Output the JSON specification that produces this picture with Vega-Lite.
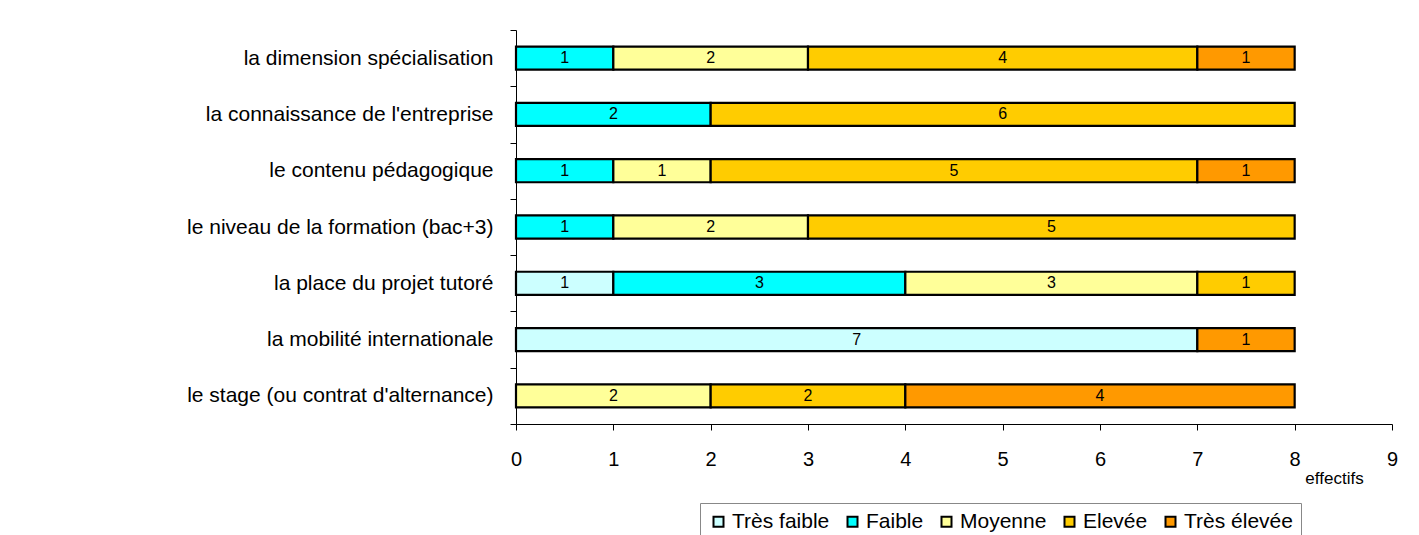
{
  "$schema": "https://vega.github.io/schema/vega-lite/v6.json",
  "width": 876,
  "height": 394,
  "autosize": {"type": "none"},
  "padding": {"left": 516, "top": 30, "right": 27, "bottom": 111},
  "background": "white",
  "config": {
    "font": "Liberation Sans",
    "view": {"stroke": null},
    "axis": {"labelFont": "Liberation Sans", "labelColor": "black", "domainColor": "black", "tickColor": "black", "grid": false}
  },
  "data": {
    "values": [
      {"item": "la dimension spécialisation", "niveau": "Faible", "k": 2, "n": 1},
      {"item": "la dimension spécialisation", "niveau": "Moyenne", "k": 3, "n": 2},
      {"item": "la dimension spécialisation", "niveau": "Elevée", "k": 4, "n": 4},
      {"item": "la dimension spécialisation", "niveau": "Très élevée", "k": 5, "n": 1},
      {"item": "la connaissance de l'entreprise", "niveau": "Faible", "k": 2, "n": 2},
      {"item": "la connaissance de l'entreprise", "niveau": "Elevée", "k": 4, "n": 6},
      {"item": "le contenu pédagogique", "niveau": "Faible", "k": 2, "n": 1},
      {"item": "le contenu pédagogique", "niveau": "Moyenne", "k": 3, "n": 1},
      {"item": "le contenu pédagogique", "niveau": "Elevée", "k": 4, "n": 5},
      {"item": "le contenu pédagogique", "niveau": "Très élevée", "k": 5, "n": 1},
      {"item": "le niveau de la formation (bac+3)", "niveau": "Faible", "k": 2, "n": 1},
      {"item": "le niveau de la formation (bac+3)", "niveau": "Moyenne", "k": 3, "n": 2},
      {"item": "le niveau de la formation (bac+3)", "niveau": "Elevée", "k": 4, "n": 5},
      {"item": "la place du projet tutoré", "niveau": "Très faible", "k": 1, "n": 1},
      {"item": "la place du projet tutoré", "niveau": "Faible", "k": 2, "n": 3},
      {"item": "la place du projet tutoré", "niveau": "Moyenne", "k": 3, "n": 3},
      {"item": "la place du projet tutoré", "niveau": "Elevée", "k": 4, "n": 1},
      {"item": "la mobilité internationale", "niveau": "Très faible", "k": 1, "n": 7},
      {"item": "la mobilité internationale", "niveau": "Très élevée", "k": 5, "n": 1},
      {"item": "le stage (ou contrat d'alternance)", "niveau": "Moyenne", "k": 3, "n": 2},
      {"item": "le stage (ou contrat d'alternance)", "niveau": "Elevée", "k": 4, "n": 2},
      {"item": "le stage (ou contrat d'alternance)", "niveau": "Très élevée", "k": 5, "n": 4}
    ]
  },
  "encoding": {
    "y": {
      "field": "item",
      "type": "nominal",
      "sort": ["la dimension spécialisation", "la connaissance de l'entreprise", "le contenu pédagogique", "le niveau de la formation (bac+3)", "la place du projet tutoré", "la mobilité internationale", "le stage (ou contrat d'alternance)"],
      "scale": {"paddingInner": 0, "paddingOuter": 0},
      "axis": {"title": null, "labelFontSize": 21, "labelPadding": 17, "tickSize": 6, "tickBand": "extent", "labelLimit": 500}
    },
    "order": {"field": "k", "type": "quantitative"}
  },
  "layer": [
    {
      "mark": {"type": "bar", "stroke": "black", "strokeWidth": 2.2, "height": {"band": 0.41}},
      "encoding": {
        "x": {
          "field": "n",
          "type": "quantitative",
          "stack": "zero",
          "scale": {"domain": [0, 9], "nice": false},
          "axis": {
            "title": "effectifs",
            "values": [0, 1, 2, 3, 4, 5, 6, 7, 8, 9],
            "format": "d",
            "labelFontSize": 20,
            "labelPadding": 19,
            "labelFlush": false,
            "tickSize": 6,
            "titleFontSize": 17,
            "titleFontWeight": "normal",
            "titleColor": "black",
            "titleX": 818,
            "titleY": 54,
            "titleAlign": "center",
            "titleBaseline": "middle"
          }
        },
        "color": {
          "field": "niveau",
          "type": "nominal",
          "scale": {
            "domain": ["Très faible", "Faible", "Moyenne", "Elevée", "Très élevée"],
            "range": ["#CCFFFF", "#00FFFF", "#FFFF99", "#FFCC00", "#FF9900"]
          },
          "legend": {
            "title": null,
            "orient": "none",
            "direction": "horizontal",
            "columns": 5,
            "legendX": 184,
            "legendY": 473,
            "padding": 8,
            "strokeColor": "#888888",
            "fillColor": "white",
            "symbolType": "square",
            "symbolSize": 100,
            "symbolStrokeColor": "black",
            "symbolStrokeWidth": 2,
            "symbolOpacity": 1,
            "labelFontSize": 21,
            "labelColor": "black",
            "labelOffset": 3,
            "columnPadding": 12
          }
        }
      }
    },
    {
      "mark": {"type": "text", "fontSize": 16, "color": "black", "baseline": "middle", "align": "center"},
      "encoding": {
        "x": {"field": "n", "type": "quantitative", "stack": "zero", "bandPosition": 0.5},
        "detail": {"field": "niveau"},
        "text": {"field": "n", "type": "quantitative"}
      }
    }
  ]
}
